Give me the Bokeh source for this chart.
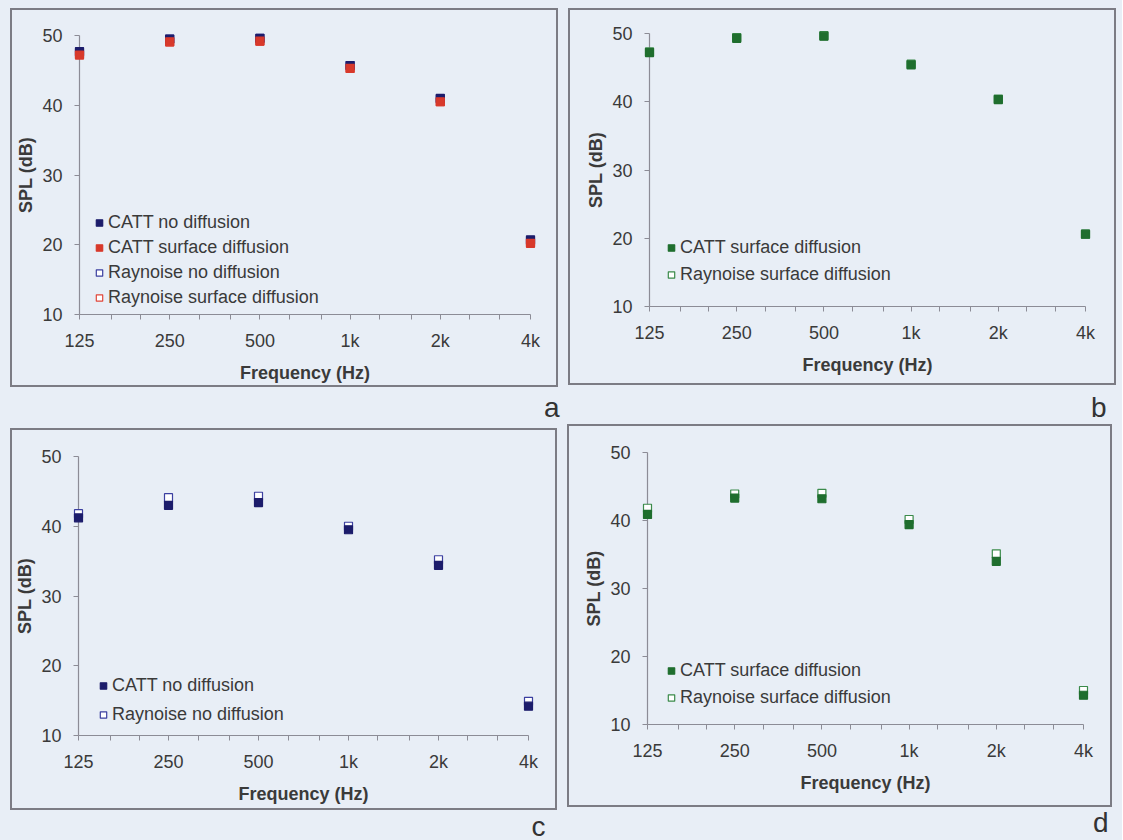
from bokeh.plotting import figure
from bokeh.models import FixedTicker, Legend, LegendItem
from bokeh.core.properties import value
from bokeh.layouts import column, row
from bokeh.embed import file_html
from bokeh.resources import INLINE

# ---------------- data ----------------
freqs = [125, 250, 500, 1000, 2000, 4000]
freq_labels = ["125", "250", "500", "1k", "2k", "4k"]
third_octaves = [160, 200, 315, 400, 630, 800, 1250, 1600, 2500, 3150]
y_ticks = [10, 20, 30, 40, 50]

a_catt_none = [47.7, 49.5, 49.6, 45.7, 41.0, 20.7]
a_catt_surf = [47.2, 49.1, 49.2, 45.3, 40.5, 20.2]
a_ray_none = [47.6, 49.5, 49.6, 45.7, 40.9, 20.6]
a_ray_surf = [47.3, 49.1, 49.2, 45.3, 40.5, 20.3]

b_catt_surf = [47.2, 49.3, 49.6, 45.4, 40.3, 20.6]
b_ray_surf = [47.3, 49.4, 49.7, 45.5, 40.4, 20.6]

c_catt_none = [41.2, 43.0, 43.4, 39.5, 34.4, 14.2]
c_ray_none = [41.8, 44.1, 44.3, 40.0, 35.2, 14.9]

d_catt_surf = [40.9, 43.3, 43.2, 39.4, 34.0, 14.3]
d_ray_surf = [41.8, 43.9, 44.0, 40.15, 35.1, 15.0]

panel_letters = ["a", "b", "c", "d"]

# ---------------- style ----------------
BG = "#e8eef6"
FONT = "Liberation Sans"
TXT = "#3a3a3a"
AX = "#8c8c96"
BOX = "#7c7c84"
NAVY = "#1c1c6b"
RED = "#d8392b"
BLUE_O = "#3b3fa0"
RED_O = "#e0463a"
GREEN = "#1f6e2e"
GREEN_O = "#3a8a4a"


def box_styles(l, t, w, h, lw=2):
    g = "linear-gradient(%s,%s)" % (BOX, BOX)
    return {
        "background-color": BG,
        "background-image": ", ".join([g] * 4),
        "background-position": "%dpx %dpx, %dpx %dpx, %dpx %dpx, %dpx %dpx" % (
            l, t, l, t + h - lw, l, t, l + w - lw, t),
        "background-size": "%dpx %dpx, %dpx %dpx, %dpx %dpx, %dpx %dpx" % (
            w, lw, w, lw, lw, h, lw, h),
        "background-repeat": "no-repeat",
    }


def make_panel(w, h, fl, fr, ft, fb, series, leg_x, leg_y, leg_row, box, letter, letter_off):
    p = figure(width=w, height=h, x_axis_type="log", x_range=(125, 4000), y_range=(10, 50),
               output_backend="svg", toolbar_location=None,
               min_border_left=fl, min_border_right=w - fr,
               min_border_top=ft, min_border_bottom=h - fb,
               background_fill_alpha=0, border_fill_alpha=0, outline_line_color=None,
               styles=box_styles(*box))
    p.grid.visible = False

    xa = p.xaxis[0]
    xa.ticker = FixedTicker(ticks=freqs, minor_ticks=third_octaves)
    xa.major_label_overrides = {float(f): lab for f, lab in zip(freqs, freq_labels)}
    xa.axis_label = "Frequency (Hz)"
    ya = p.yaxis[0]
    ya.ticker = FixedTicker(ticks=y_ticks)
    ya.axis_label = "SPL (dB)"
    for ax in (xa, ya):
        ax.axis_line_color = AX
        ax.axis_line_width = 1.2
        ax.major_tick_line_color = AX
        ax.major_tick_in = 0
        ax.major_tick_out = 5
        ax.minor_tick_line_color = AX
        ax.minor_tick_in = 0
        ax.minor_tick_out = 5
        ax.major_label_text_font = FONT
        ax.major_label_text_font_size = "18px"
        ax.major_label_text_color = TXT
        ax.axis_label_text_font = FONT
        ax.axis_label_text_font_size = "18px"
        ax.axis_label_text_font_style = "bold"
        ax.axis_label_text_color = TXT
    ya.minor_tick_line_color = None
    xa.major_label_standoff = 11
    xa.axis_label_standoff = 9
    ya.major_label_standoff = 12
    ya.axis_label_standoff = 3

    # panel letter, anchored at the frame's bottom-right corner
    p.text(x=[freqs[-1]], y=[y_ticks[0]], text=[letter], x_offset=letter_off[0],
           y_offset=letter_off[1], text_font=value(FONT), text_font_size="28px",
           text_color="#333333", text_baseline="alphabetic", text_align="left",
           level="overlay")

    renderers = {}
    for name, vals, fill, line, order in series:
        r = p.scatter(x=freqs, y=vals, marker="square", size=8, fill_color=fill,
                      line_color=line, line_width=1.2, level="overlay")
        renderers[name] = (r, order)
    items = [LegendItem(label=name, renderers=[renderers[name][0]])
             for name in sorted(renderers, key=lambda n: renderers[n][1])]
    legend = Legend(items=items, location=(leg_x, leg_y), orientation="vertical",
                    label_text_font=FONT, label_text_font_size="18px", label_text_color=TXT,
                    glyph_width=16, glyph_height=leg_row, label_height=leg_row,
                    label_standoff=1, spacing=0, padding=0, margin=0,
                    border_line_color=None, background_fill_alpha=0)
    p.add_layout(legend)
    return p


# draw order: hollow (Raynoise) first, filled (CATT) on top; legend order by last value
pa = make_panel(563, 424, 79, 530, 35, 314, [
    ("Raynoise no diffusion", a_ray_none, "white", BLUE_O, 2),
    ("Raynoise surface diffusion", a_ray_surf, "white", RED_O, 3),
    ("CATT no diffusion", a_catt_none, NAVY, NAVY, 0),
    ("CATT surface diffusion", a_catt_surf, RED, RED, 1),
], 12, 4, 25, (10, 8, 548, 379), panel_letters[0], (13.5, 93))

pb = make_panel(559, 424, 86, 522, 33, 306, [
    ("Raynoise surface diffusion", b_ray_surf, "white", GREEN_O, 1),
    ("CATT surface diffusion", b_catt_surf, GREEN, GREEN, 0),
], 14, 18, 27, (5, 8, 548, 377), panel_letters[1], (5.5, 101))

pc = make_panel(563, 416, 78, 528, 32, 311, [
    ("Raynoise no diffusion", c_ray_none, "white", BLUE_O, 1),
    ("CATT no diffusion", c_catt_none, NAVY, NAVY, 0),
], 17, 6, 29, (10, 4, 547, 382), panel_letters[2], (3, 90.5))

pd = make_panel(559, 416, 84, 520, 28, 300, [
    ("Raynoise surface diffusion", d_ray_surf, "white", GREEN_O, 1),
    ("CATT surface diffusion", d_catt_surf, GREEN, GREEN, 0),
], 16, 13, 27, (4, 0, 545, 383), panel_letters[3], (9.5, 98))

layout = column(row(column(pa), column(pb)), row(column(pc), column(pd)),
                styles={"background": BG})

html = file_html(layout, INLINE)
html = html.replace("<body>", '<body style="background:%s">' % BG, 1)
open("out.html", "w").write(html)
